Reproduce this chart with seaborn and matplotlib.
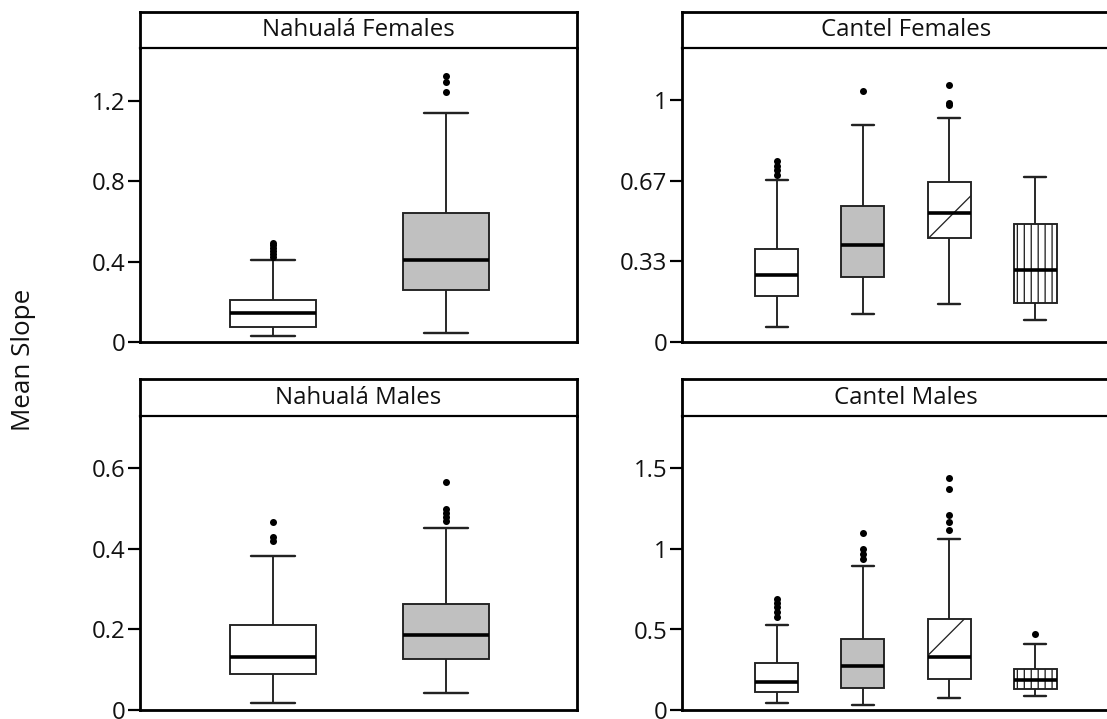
"""
Mean slope box plots for Nahuala and Cantel, females and males
"""

import numpy as np
import pandas as pd
import matplotlib.pyplot as plt
import seaborn as sns

# Five-number summaries, one row per group:
# [lower whisker, Q1, median, Q3, upper whisker]
nahuala_f_box = [[0.030, 0.076, 0.143, 0.209, 0.407],
                 [0.044, 0.260, 0.407, 0.640, 1.140]]
nahuala_f_out = [[0.42, 0.435, 0.45, 0.465, 0.48, 0.49],
                 [1.24, 1.29, 1.32]]

nahuala_m_box = [[0.017, 0.089, 0.131, 0.211, 0.382],
                 [0.042, 0.127, 0.187, 0.263, 0.451]]
nahuala_m_out = [[0.42, 0.43, 0.467],
                 [0.47, 0.48, 0.49, 0.50, 0.567]]

cantel_f_box = [[0.062, 0.191, 0.276, 0.384, 0.672],
                [0.117, 0.269, 0.402, 0.561, 0.899],
                [0.159, 0.430, 0.533, 0.661, 0.926],
                [0.093, 0.160, 0.297, 0.487, 0.682]]
cantel_f_out = [[0.69, 0.71, 0.73, 0.75],
                [1.04],
                [0.98, 0.99, 1.063],
                []]

cantel_m_box = [[0.042, 0.110, 0.175, 0.289, 0.527],
                [0.032, 0.137, 0.274, 0.443, 0.892],
                [0.074, 0.194, 0.331, 0.563, 1.060],
                [0.084, 0.133, 0.184, 0.253, 0.411]]
cantel_m_out = [[0.58, 0.61, 0.64, 0.665, 0.69],
                [0.94, 0.97, 1.00, 1.097],
                [1.12, 1.17, 1.21, 1.37, 1.44],
                [0.47]]

groups = ["Group 1", "Group 2", "Group 3", "Group 4"]
fills = ["white", "#c0c0c0", "white", "white"]
hatches = [None, None, "/", "||||||"]

nahuala_f_ticks, nahuala_f_labels = [0, 0.4, 0.8, 1.2], ["0", "0.4", "0.8", "1.2"]
nahuala_m_ticks, nahuala_m_labels = [0, 0.2, 0.4, 0.6], ["0", "0.2", "0.4", "0.6"]
cantel_f_ticks, cantel_f_labels = [0, 1 / 3, 2 / 3, 1], ["0", "0.33", "0.67", "1"]
cantel_m_ticks, cantel_m_labels = [0, 0.5, 1, 1.5], ["0", "0.5", "1", "1.5"]

# High dpi so the hatch spacing (1/6 inch per stroke) matches the sparse diagonals
DPI = 250
W, H = 1107, 719
PX = 72 / DPI  # one pixel in points

sns.set_theme(style="ticks")
plt.rcParams['font.family'] = ['Open Sans', 'DejaVu Sans']
plt.rcParams['hatch.linewidth'] = 1.3 * PX

fig = plt.figure(figsize=((W + 0.01) / DPI, (H + 0.01) / DPI), dpi=DPI)


def draw_panel(frame, xlim, title, boxes, outliers, ticks, labels, ymax):
    left, right, top, strip_bottom, base = frame
    ax = fig.add_axes([left / W, 1 - base / H, (right - left) / W, (base - strip_bottom) / H])
    strip = fig.add_axes([left / W, 1 - strip_bottom / H, (right - left) / W, (strip_bottom - top) / H])

    n = len(boxes)
    cats = groups[:n]
    box_df = pd.DataFrame({"group": np.repeat(cats, 5), "slope": np.concatenate(boxes)})
    out_df = pd.DataFrame({"group": np.repeat(cats, [len(o) for o in outliers]),
                           "slope": np.concatenate(outliers).astype(float)})

    sns.boxplot(data=box_df, x="group", y="slope", hue="group", order=cats, hue_order=cats,
                palette=fills[:n], saturation=1, width=0.5, whis=(0, 100), showfliers=False,
                linecolor="#222222", linewidth=1.9 * PX, legend=False,
                medianprops={"color": "black", "linewidth": 3.6 * PX},
                capprops={"linewidth": 2.4 * PX}, ax=ax)

    # patterns on the third and fourth boxes
    for patch in ax.patches:
        ext = patch.get_path().get_extents()
        i = int(round((ext.x0 + ext.x1) / 2))
        if 0 <= i < n and hatches[i]:
            patch.set_hatch(hatches[i])

    sns.stripplot(data=out_df, x="group", y="slope", order=cats, jitter=False,
                  color="black", size=7 * PX, linewidth=0, ax=ax)

    ax.set_xlim(*xlim)
    ax.set_ylim(0, ymax)
    ax.set_yticks(ticks, labels)
    ax.set_xlabel("")
    ax.set_ylabel("")
    ax.tick_params(axis="x", bottom=False, labelbottom=False)
    ax.tick_params(axis="y", length=12 * PX, width=2.2 * PX, pad=3 * PX,
                   labelsize=24 * PX, color="black", labelcolor="#111111")
    for s in ax.spines.values():
        s.set_linewidth(2.8 * PX)
        s.set_color("black")
    ax.spines["top"].set_visible(False)

    strip.set_xticks([])
    strip.set_yticks([])
    for s in strip.spines.values():
        s.set_linewidth(2.8 * PX)
        s.set_color("black")
    strip.spines["bottom"].set_linewidth(2.2 * PX)
    strip.text(0.5, 0.5, title, transform=strip.transAxes, ha="center", va="center",
               fontsize=24 * PX, color="#111111")


draw_panel((140, 577, 12, 48, 342), (-0.767, 1.756), "Nahualá Females",
           nahuala_f_box, nahuala_f_out, nahuala_f_ticks, nahuala_f_labels, 1.461)
draw_panel((140, 577, 379, 416, 710), (-0.767, 1.756), "Nahualá Males",
           nahuala_m_box, nahuala_m_out, nahuala_m_ticks, nahuala_m_labels, 0.730)
draw_panel((682, 1130, 12, 48, 342), (-1.10, 4.10), "Cantel Females",
           cantel_f_box, cantel_f_out, cantel_f_ticks, cantel_f_labels, 1.217)
draw_panel((682, 1130, 379, 416, 710), (-1.10, 4.10), "Cantel Males",
           cantel_m_box, cantel_m_out, cantel_m_ticks, cantel_m_labels, 1.826)

fig.text(23 / W, 1 - 360 / H, "Mean Slope", rotation=90, ha="center", va="center",
         fontsize=26 * PX, color="#111111")

fig.savefig("out.png", dpi=DPI)
